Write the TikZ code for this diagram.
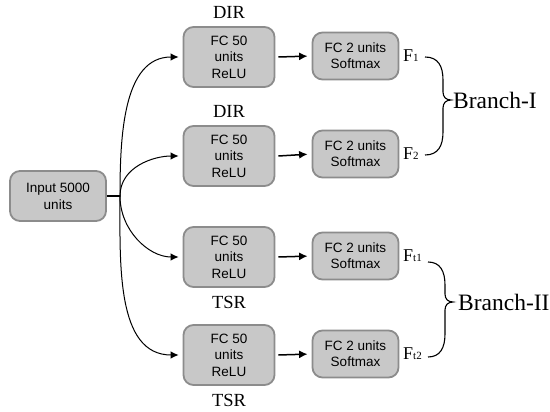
\documentclass[tikz,border=0pt]{standalone}
\usepackage{fontspec}
\setmainfont{Liberation Serif}
\setsansfont{Liberation Sans}
\usetikzlibrary{arrows.meta}
\definecolor{boxfill}{RGB}{200,200,200}
\definecolor{boxedge}{RGB}{140,140,140}
\newcommand{\smallsub}[1]{{\fontsize{11}{11}\selectfont #1}}
\begin{document}
\begin{tikzpicture}[x=1pt,y=-1pt,
  box/.style={draw=boxedge, fill=boxfill, line width=1.8pt, rounded corners=10pt,
    align=center, inner sep=0pt, font=\sffamily\fontsize{13.5}{16.5}\selectfont},
  inbox/.style={box, minimum width=96pt, minimum height=50pt, font=\sffamily\fontsize{13.5}{17}\selectfont},
  hidbox/.style={box, minimum width=91pt, minimum height=60pt},
  outbox/.style={box, minimum width=86pt, minimum height=47pt, font=\sffamily\fontsize{13.5}{16}\selectfont},
  tag/.style={font=\fontsize{18.5}{20}\selectfont, inner sep=0pt},
  flab/.style={font=\fontsize{18}{20}\selectfont, inner sep=0pt, anchor=west},
  brlab/.style={font=\fontsize{23.5}{26}\selectfont, inner sep=0pt, anchor=west},
  arr/.style={-{Latex[length=8.5pt,width=8pt]}, line width=1.5pt, shorten >=4pt},
  fan/.style={-{Latex[length=8pt,width=7.5pt]}, line width=1pt, shorten >=4pt},
  brace/.style={line width=1.1pt},
  ]
\useasboundingbox (0,0) rectangle (550,412);

% input layer
\node[inbox] (in) at (58,196) {Input 5000\\units};
\coordinate (j) at (120,196);

% hidden layers
\node[hidbox] (h1) at (229,57)  {FC 50\\units\\ReLU};
\node[hidbox] (h2) at (229,156) {FC 50\\units\\ReLU};
\node[hidbox] (h3) at (229,257) {FC 50\\units\\ReLU};
\node[hidbox] (h4) at (229,355) {FC 50\\units\\ReLU};

% output layers
\node[outbox] (o1) at (355.5,56)  {FC 2 units\\Softmax};
\node[outbox] (o2) at (355.5,154) {FC 2 units\\Softmax};
\node[outbox] (o3) at (355.5,256) {FC 2 units\\Softmax};
\node[outbox] (o4) at (355.5,354) {FC 2 units\\Softmax};

% task tags
\node[tag] (t1) at (229,12)  {DIR};
\node[tag] (t2) at (229,111) {DIR};
\node[tag] (t3) at (229,302) {TSR};
\node[tag] (t4) at (229,400) {TSR};

% output names
\node[flab] (f1) at (403,56)  {F\smallsub{1}};
\node[flab] (f2) at (403,154) {F\smallsub{2}};
\node[flab] (f3) at (403,256) {F\smallsub{t1}};
\node[flab] (f4) at (403,354) {F\smallsub{t2}};

% branch names
\node[brlab] (b1) at (453,100) {Branch-I};
\node[brlab] (b2) at (458,302) {Branch-II};

% connectors
\draw[line width=1.4pt] (in.east) -- (j);
\draw[fan] (j) to[out=90,in=180] (h1.west);
\draw[fan] (j) to[out=90,in=180] (h2.west);
\draw[fan] (j) to[out=-90,in=180] (h3.west);
\draw[fan] (j) to[out=-90,in=180] (h4.west);

\draw[arr] (h1.east) ++(3,0) -- (o1.west);
\draw[arr] (h2.east) ++(3,0) -- (o2.west);
\draw[arr] (h3.east) ++(3,0) -- (o3.west);
\draw[arr] (h4.east) ++(3,0) -- (o4.west);

% braces
\draw[brace] (425,57) .. controls (438,57) and (443,66) .. (443,80) -- (443,92)
  .. controls (443,97) and (446,100) .. (451,100)
  .. controls (446,100) and (443,103) .. (443,108) -- (443,132)
  .. controls (443,146) and (438,155) .. (425,155);
\draw[brace] (428,262) .. controls (440,262) and (445,271) .. (445,285) -- (445,294)
  .. controls (445,299) and (448,302) .. (453,302)
  .. controls (448,302) and (445,305) .. (445,310) -- (445,334)
  .. controls (445,348) and (440,357) .. (428,357);
\end{tikzpicture}
\end{document}
